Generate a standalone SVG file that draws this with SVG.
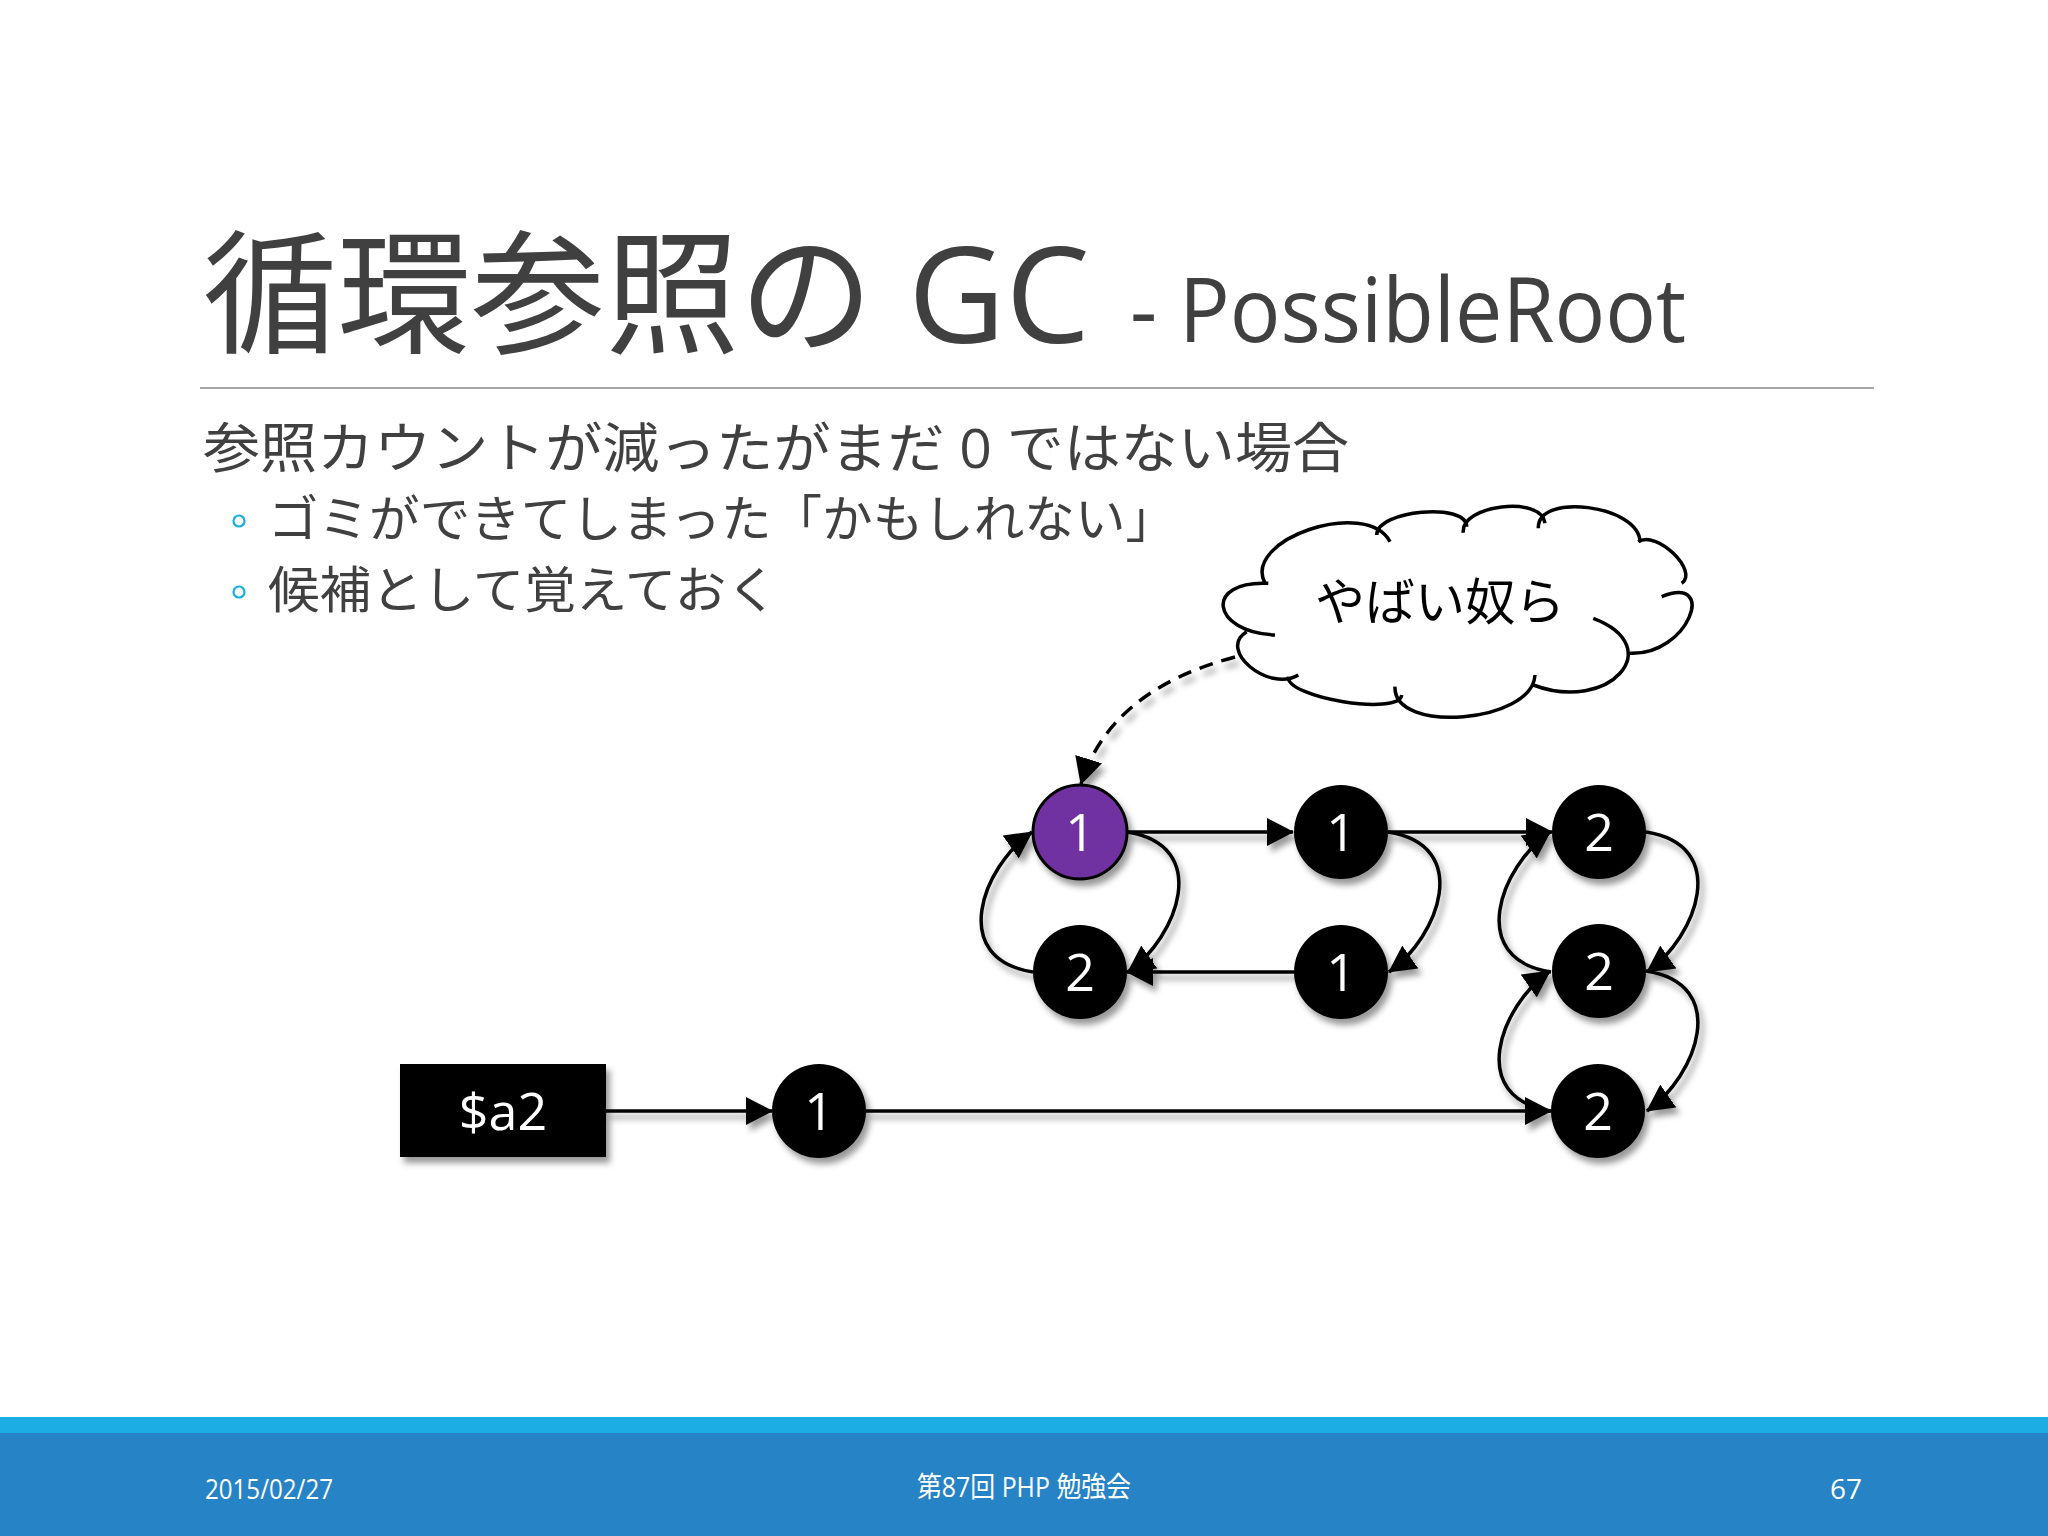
<svg xmlns="http://www.w3.org/2000/svg" width="2048" height="1536" viewBox="0 0 2048 1536">
<defs>
<style>
.t{font-family:'Open Sans','Noto Sans CJK JP',sans-serif;fill:#404040}
.j{font-family:'Noto Sans CJK JP',sans-serif}
.n{font-family:'Open Sans','Noto Sans CJK JP',sans-serif;fill:#fff;font-size:52px;text-anchor:middle}
.c{fill:none;stroke:#000;stroke-width:3.5;marker-end:url(#arr)}
.cl{fill:none;stroke:#000;stroke-width:3.5}
.cf{fill:#fff;stroke:none}
.f{font-family:'Open Sans','Noto Sans CJK JP',sans-serif;fill:#fff;font-size:28px}
</style>
<marker id="arr" viewBox="0 0 27 28" refX="26" refY="14" markerWidth="27" markerHeight="28" orient="auto" markerUnits="userSpaceOnUse">
<path d="M0,0 L27,14 L0,28 z" fill="#000"/>
</marker>
<filter id="sh" filterUnits="userSpaceOnUse" x="0" y="0" width="2048" height="1536">
<feDropShadow dx="4" dy="6" stdDeviation="3" flood-color="#000" flood-opacity="0.4"/>
</filter>
</defs>
<rect width="2048" height="1536" fill="#fff"/>

<g id="title">
<text class="t" x="203" y="343" font-size="134" textLength="887" lengthAdjust="spacingAndGlyphs">循環参照の GC</text>
<text class="t" x="1130" y="342" font-size="90" textLength="556" lengthAdjust="spacingAndGlyphs">- PossibleRoot</text>
<line x1="200" y1="388" x2="1874" y2="388" stroke="#a6a6a6" stroke-width="2"/>
</g>

<g id="body">
<text class="t" x="203" y="468" font-size="54" textLength="1146" lengthAdjust="spacingAndGlyphs">参照カウントが減ったがまだ 0 ではない場合</text>
<circle cx="239" cy="521" r="5.5" fill="none" stroke="#1CADE4" stroke-width="2.2"/>
<text class="t" x="268" y="537" font-size="50" textLength="908" lengthAdjust="spacingAndGlyphs">ゴミができてしまった「かもしれない」</text>
<circle cx="239" cy="592" r="5.5" fill="none" stroke="#1CADE4" stroke-width="2.2"/>
<text class="t" x="268" y="608" font-size="50" textLength="510" lengthAdjust="spacingAndGlyphs">候補として覚えておく</text>
</g>

<g id="cloud">
<g class="cf">
<path d="M1268.3,583.3 C1203.8,580.2 1210.5,631.9 1275,635 Z"/>
<path d="M1246.7,631.7 C1216.7,649.6 1268.3,692.9 1298.3,675 Z"/>
<path d="M1288.3,676.7 C1286,697.9 1399.4,716.2 1401.7,695 Z"/>
<path d="M1395,686.7 C1392.8,734.5 1532.8,722.9 1535,675 Z"/>
<path d="M1533.3,685 C1608.9,713.8 1668.9,647.1 1593.3,618.3 Z"/>
<path d="M1630,653.3 C1689,655.6 1718,574 1661.7,596.7 Z"/>
<path d="M1681.7,583.3 C1699.4,571 1656,529.4 1638.3,541.7 Z"/>
<path d="M1640,541.7 C1638.8,505 1537.1,492 1538.3,528.3 Z"/>
<path d="M1545,523.3 C1541.7,495 1460,505 1463.3,532.7 Z"/>
<path d="M1466.7,526.7 C1466.7,502 1376.7,510 1376.7,535 Z"/>
<path d="M1390,541.7 C1366.7,497.4 1241.7,539 1265,583.3 Z"/>
<ellipse cx="1450" cy="612" rx="205" ry="76"/>
</g>
<g class="cl">
<path d="M1268.3,583.3 C1203.8,580.2 1210.5,631.9 1275,635"/>
<path d="M1246.7,631.7 C1216.7,649.6 1268.3,692.9 1298.3,675"/>
<path d="M1288.3,676.7 C1286,697.9 1399.4,716.2 1401.7,695"/>
<path d="M1395,686.7 C1392.8,734.5 1532.8,722.9 1535,675"/>
<path d="M1533.3,685 C1608.9,713.8 1668.9,647.1 1593.3,618.3"/>
<path d="M1630,653.3 C1689,655.6 1718,574 1661.7,596.7"/>
<path d="M1681.7,583.3 C1699.4,571 1656,529.4 1638.3,541.7"/>
<path d="M1640,541.7 C1638.8,505 1537.1,492 1538.3,528.3"/>
<path d="M1545,523.3 C1541.7,495 1460,505 1463.3,532.7"/>
<path d="M1466.7,526.7 C1466.7,502 1376.7,510 1376.7,535"/>
<path d="M1390,541.7 C1366.7,497.4 1241.7,539 1265,583.3"/>
</g>
<text class="j" x="1440" y="620" font-size="50" text-anchor="middle" fill="#000">やばい奴ら</text>
</g>

<g id="connectors" filter="url(#sh)">
<path class="c" d="M1235,657 Q1110,690 1081,784" stroke-dasharray="14 9"/>
<path class="c" d="M606,1111 L772,1111"/>
<path class="c" d="M866,1111 L1551,1111"/>
<path class="c" d="M1127,832 L1293,832"/>
<path class="c" d="M1388,832 L1552,832"/>
<path class="c" d="M1294,972 L1127,972"/>
<path class="c" d="M1127,832 C1212,845 1178,937 1128,972"/>
<path class="c" d="M1033,972 C948,959 982,867 1032,832"/>
<path class="c" d="M1388,832 C1473,845 1439,937 1389,972"/>
<path class="c" d="M1646,832 C1731,845 1697,937 1647,972"/>
<path class="c" d="M1551,972 C1466,959 1500,867 1550,832"/>
<path class="c" d="M1646,971 C1731,984 1697,1076 1647,1111"/>
<path class="c" d="M1551,1111 C1466,1098 1500,1006 1550,971"/>
</g>

<g id="nodes" filter="url(#sh)">
<g id="a2"><rect x="400" y="1064" width="206" height="93" fill="#000"/><text class="n" x="503" y="1130" font-size="50">$a2</text></g>
<g id="nA"><circle cx="1080" cy="832" r="47" fill="#7030A0" stroke="#000" stroke-width="3"/><text class="n" x="1080" y="851">1</text></g>
<g id="nB"><circle cx="1341" cy="832" r="47" fill="#000"/><text class="n" x="1341" y="851">1</text></g>
<g id="nC"><circle cx="1599" cy="832" r="47" fill="#000"/><text class="n" x="1599" y="851">2</text></g>
<g id="nD"><circle cx="1080" cy="972" r="47" fill="#000"/><text class="n" x="1080" y="991">2</text></g>
<g id="nE"><circle cx="1341" cy="972" r="47" fill="#000"/><text class="n" x="1341" y="991">1</text></g>
<g id="nF"><circle cx="1599" cy="971" r="47" fill="#000"/><text class="n" x="1599" y="990">2</text></g>
<g id="nG"><circle cx="1598" cy="1111" r="47" fill="#000"/><text class="n" x="1598" y="1130">2</text></g>
<g id="nH"><circle cx="819" cy="1111" r="47" fill="#000"/><text class="n" x="819" y="1130">1</text></g>
</g>

<g id="footer">
<rect x="0" y="1417" width="2048" height="16" fill="#1CADE4"/>
<rect x="0" y="1433" width="2048" height="103" fill="#2683C6"/>
<text class="f" x="205" y="1499" textLength="128" lengthAdjust="spacingAndGlyphs">2015/02/27</text>
<text class="f" x="917" y="1497" textLength="214" lengthAdjust="spacingAndGlyphs">第87回 PHP 勉強会</text>
<text class="f" x="1862" y="1499" text-anchor="end">67</text>
</g>
</svg>
